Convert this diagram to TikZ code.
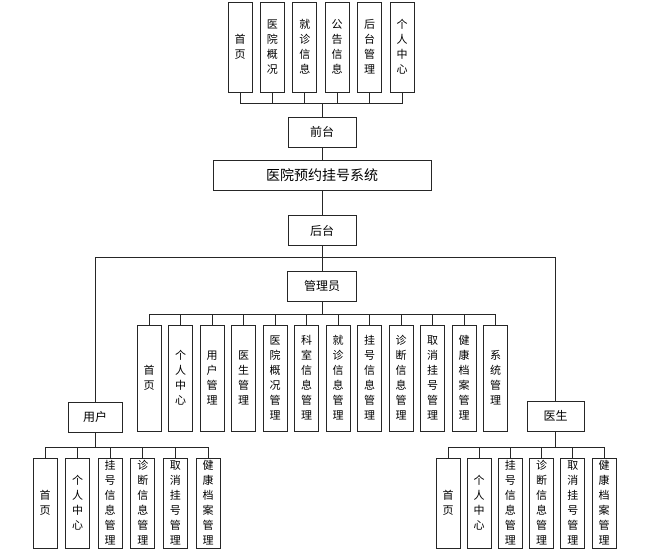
\documentclass[tikz,border=0pt]{standalone}
\usepackage{fontspec}
\newfontfamily\cjk{Noto Sans CJK SC}

\begin{document}
\begin{tikzpicture}[x=1pt,y=-1pt,
    box/.style={draw=black!85, line width=1pt, fill=white, inner sep=0pt,
      font={\cjk\fontsize{11}{15}\selectfont}},
    vbox/.style={box, minimum width=24pt, minimum height=#1, align=center},
    hbox/.style={box, minimum height=30pt, font={\cjk\fontsize{12}{14}\selectfont}},
    link/.style={draw=black!85, line width=0.8pt}]
  \useasboundingbox (0,0) rectangle (661,554);

  % front end
  \foreach \t [count=\i] in {{首\\页},{医\\院\\概\\况},{就\\诊\\信\\息},{公\\告\\信\\息},{后\\台\\管\\理},{个\\人\\中\\心}}
    \node[vbox=90pt] (q\i) at ({240+32.4*(\i-1)},47) {\t};
  \node[hbox, minimum width=68pt] (qt) at (322,132) {前台};
  \node[hbox, minimum width=218pt, font={\cjk\fontsize{14}{16}\selectfont}] (sys) at (322,175) {医院预约挂号系统};
  \node[hbox, minimum width=68pt] (ht) at (322,230.5) {后台};

  % roles
  \node[hbox, minimum width=69pt] (gly) at (322,286) {管理员};
  \node[hbox, minimum width=54pt] (yh) at (95,417) {用户};
  \node[hbox, minimum width=57pt] (ys) at (555.5,416) {医生};

  \foreach \t [count=\i] in {{首\\页},{个\\人\\中\\心},{用\\户\\管\\理},{医\\生\\管\\理},{医\\院\\概\\况\\管\\理},{科\\室\\信\\息\\管\\理},{就\\诊\\信\\息\\管\\理},{挂\\号\\信\\息\\管\\理},{诊\\断\\信\\息\\管\\理},{取\\消\\挂\\号\\管\\理},{健\\康\\档\\案\\管\\理},{系\\统\\管\\理}}
    \node[vbox=106pt] (g\i) at ({149+31.5*(\i-1)},378) {\t};
  \foreach \t [count=\i] in {{首\\页},{个\\人\\中\\心},{挂\\号\\信\\息\\管\\理},{诊\\断\\信\\息\\管\\理},{取\\消\\挂\\号\\管\\理},{健\\康\\档\\案\\管\\理}}
    \node[vbox=90pt] (u\i) at ({45+32.6*(\i-1)},503) {\t};
  \foreach \t [count=\i] in {{首\\页},{个\\人\\中\\心},{挂\\号\\信\\息\\管\\理},{诊\\断\\信\\息\\管\\理},{取\\消\\挂\\号\\管\\理},{健\\康\\档\\案\\管\\理}}
    \node[vbox=90pt] (d\i) at ({448+31.2*(\i-1)},503) {\t};

  % connectors
  \coordinate (qbus) at (322,103);
  \coordinate (hbus) at (322,257);
  \coordinate (gbus) at (322,314);
  \coordinate (ubus) at (95,447);
  \coordinate (dbus) at (555.5,447);
  \draw[link] (qt.north) -- (qbus);
  \foreach \i in {1,...,6}
    \draw[link] (qbus) -| (q\i.south);
  \draw[link] (qt.south) -- (sys.north);
  \draw[link] (sys.south) -- (ht.north);
  \draw[link] (ht.south) -- (gly.north);
  \draw[link] (hbus) -| (yh.north);
  \draw[link] (hbus) -| (ys.north);
  \draw[link] (gly.south) -- (gbus);
  \foreach \i in {1,...,12}
    \draw[link] (gbus) -| (g\i.north);
  \draw[link] (yh.south) -- (ubus);
  \draw[link] (ys.south) -- (dbus);
  \foreach \i in {1,...,6} {
    \draw[link] (ubus) -| (u\i.north);
    \draw[link] (dbus) -| (d\i.north);
  }
\end{tikzpicture}
\end{document}
